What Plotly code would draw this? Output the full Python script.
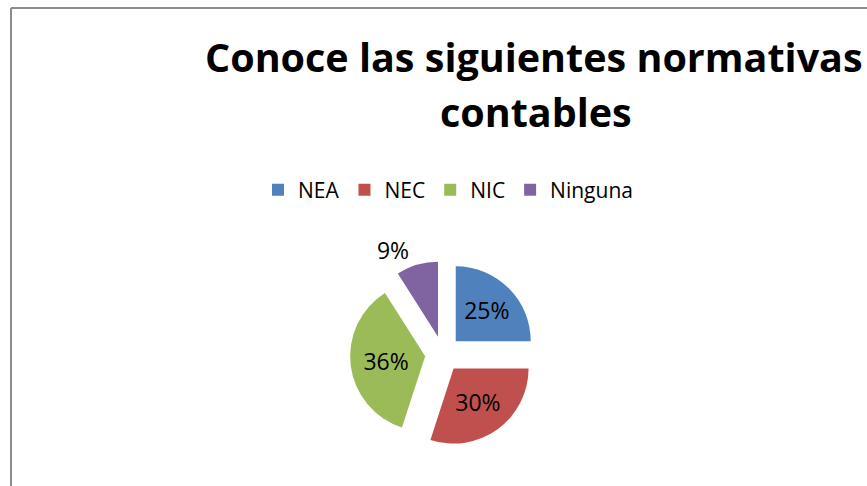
import plotly.graph_objects as go

categories = ["NEA", "NEC", "NIC", "Ninguna"]
values = [25, 30, 36, 9]
colors = ["#4F81BD", "#C0504D", "#9BBB59", "#8064A2"]
title_lines = ["Conoce las siguientes normativas", "contables"]

W, H = 867, 486
cx, cy, half = 443, 354, 93
FONT = "Open Sans"

fig = go.Figure(go.Pie(
    labels=categories,
    values=values,
    sort=False,
    direction="clockwise",
    rotation=0,
    pull=[0.24, 0.24, 0.24, 0.24],
    marker=dict(colors=colors, line=dict(width=0)),
    textinfo="percent",
    texttemplate="%{percent:.0%}",
    textposition=["inside", "inside", "inside", "outside"],
    insidetextorientation="horizontal",
    textfont=dict(family=FONT, size=23, color="#000000"),
    domain=dict(x=[(cx - half) / W, (cx + half) / W],
                y=[(H - cy - half) / H, (H - cy + half) / H]),
    hoverinfo="label+percent",
))

annotations = [
    dict(text="<b>" + title_lines[0] + "</b>", x=534 / W, y=1 - 57 / H,
         xref="paper", yref="paper", xanchor="center", yanchor="middle",
         showarrow=False, font=dict(family=FONT, size=39.5, color="#000000")),
    dict(text="<b>" + title_lines[1] + "</b>", x=536 / W, y=1 - 112 / H,
         xref="paper", yref="paper", xanchor="center", yanchor="middle",
         showarrow=False, font=dict(family=FONT, size=39.5, color="#000000")),
]

fig.update_layout(
    width=W, height=H,
    margin=dict(l=0, r=0, t=0, b=0),
    paper_bgcolor="white",
    plot_bgcolor="white",
    font=dict(family=FONT, color="#000000"),
    annotations=annotations,
    legend=dict(orientation="h", x=448 / W, xanchor="center",
                y=1 - 190 / H, yanchor="middle",
                font=dict(family=FONT, size=21, color="#000000"),
                itemclick=False),
    shapes=[
        dict(type="line", xref="paper", yref="paper",
             x0=11 / W, x1=1.01, y0=1 - 8 / H, y1=1 - 8 / H,
             line=dict(color="#8C8C8C", width=2)),
        dict(type="line", xref="paper", yref="paper",
             x0=11 / W, x1=11 / W, y0=-0.01, y1=1 - 8 / H,
             line=dict(color="#8C8C8C", width=2)),
    ],
)

fig.write_html("out.html")
